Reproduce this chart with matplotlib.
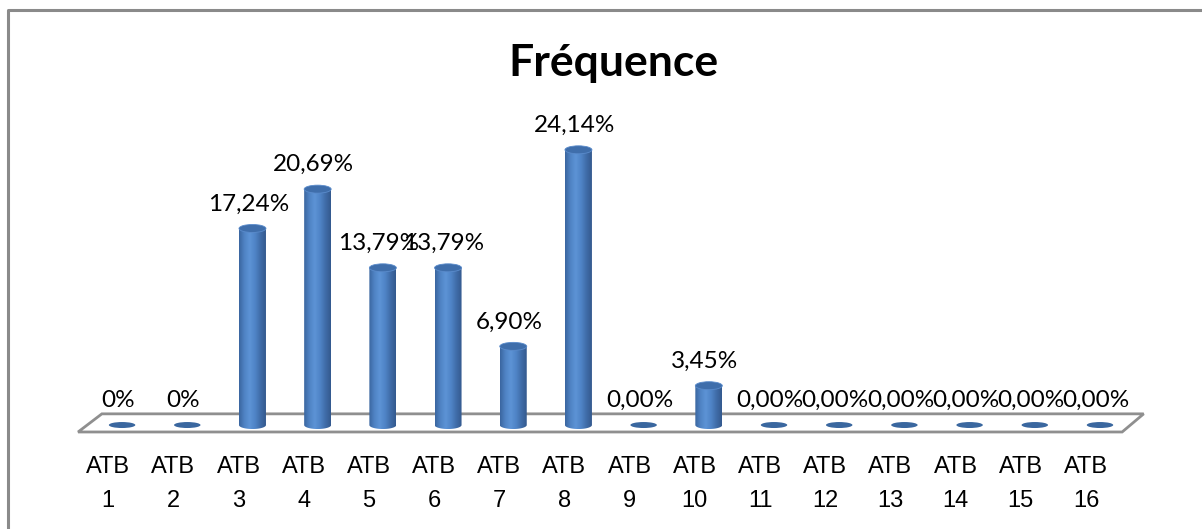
import numpy as np
import matplotlib
matplotlib.use("Agg")
import matplotlib.pyplot as plt
from matplotlib.patches import Ellipse, Polygon
from matplotlib.colors import LinearSegmentedColormap
from matplotlib.lines import Line2D

# Data
categories = [f"ATB\n{i}" for i in range(1, 17)]
values = [0, 0, 17.24, 20.69, 13.79, 13.79, 6.90, 24.14,
          0, 3.45, 0, 0, 0, 0, 0, 0]
value_labels = ["0%", "0%", "17,24%", "20,69%", "13,79%", "13,79%", "6,90%",
                "24,14%", "0,00%", "3,45%", "0,00%", "0,00%", "0,00%",
                "0,00%", "0,00%", "0,00%"]
title = "Fréquence"

# Style
VALUE_FONT = "Lato"
TICK_FONT = "Liberation Sans"
cyl_cmap = LinearSegmentedColormap.from_list(
    "cyl", ["#3a659f", "#4f83c4", "#5d93d6", "#4f84c6", "#3f6ca8", "#34598e"])
top_color = "#3f6eab"
disk_color = "#3a679f"
floor_edge = "#8f8f8f"

fig = plt.figure(figsize=(12.02, 5.29), dpi=100)
ax = fig.add_axes([0.0636, 0.175, 0.8895, 0.625])
ax.set_xlim(-0.7, 15.7)
ax.set_ylim(-1, 28)
ax.axis("off")

# Floor of the 3-D plot area
floor = Polygon([(-0.675, -0.61), (-0.31, 0.98), (15.67, 0.98), (15.34, -0.61)],
                closed=True, facecolor="white", edgecolor=floor_edge,
                linewidth=2.0, zorder=1)
ax.add_patch(floor)

w = 0.414   # cylinder width (data units)
eh = 0.70   # ellipse height (data units)
grad = np.linspace(0, 1, 256).reshape(1, -1)

for i, (v, lab) in enumerate(zip(values, value_labels)):
    x = i
    if v > 0:
        # body clipped to rectangle + rounded bottom
        th = np.linspace(np.pi, 2 * np.pi, 60)
        bottom = np.column_stack([x + w / 2 * np.cos(th), eh / 2 * np.sin(th)])
        outline = np.vstack([bottom, [[x + w / 2, v], [x - w / 2, v]]])
        clip = Polygon(outline, closed=True, transform=ax.transData,
                       facecolor="none", edgecolor="none")
        ax.add_patch(clip)
        im = ax.imshow(grad, cmap=cyl_cmap, aspect="auto",
                       extent=(x - w / 2, x + w / 2, -eh / 2, v),
                       interpolation="bilinear", zorder=3)
        im.set_clip_path(clip)
        ax.add_patch(Ellipse((x, v), w, eh, facecolor=top_color,
                             edgecolor="#5a8bcb", linewidth=0.6, zorder=4))
    else:
        ax.add_patch(Ellipse((x, 0), w * 0.98, eh * 0.75,
                             facecolor=disk_color, edgecolor="none", zorder=3))
    ax.annotate(lab, xy=(x, v), xytext=(-4, 18), textcoords="offset pixels",
                ha="center", va="baseline", fontsize=17.5,
                family=VALUE_FONT, color="black", zorder=6)

# Category labels
for i, cat in enumerate(categories):
    ax.annotate(cat, xy=(i - 0.215, 0), xytext=(0, -59),
                textcoords="offset pixels", ha="center", va="center",
                fontsize=17, family=TICK_FONT, linespacing=1.75)

ax.set_xlim(-0.7, 15.7)
ax.set_ylim(-1, 28)

# Title
fig.text(0.510, 0.857, title, ha="center", va="baseline",
         fontsize=32, fontweight="bold", family="Lato")

# Chart area border (top and left edges)
bx = 8 / 1202
by = 1 - 10 / 529
fig.add_artist(Line2D([bx, bx, 1.0], [0.0, by, by], transform=fig.transFigure,
                      color="#8a8a8a", linewidth=2.2))

fig.savefig("out.png", dpi=100, facecolor="white")
